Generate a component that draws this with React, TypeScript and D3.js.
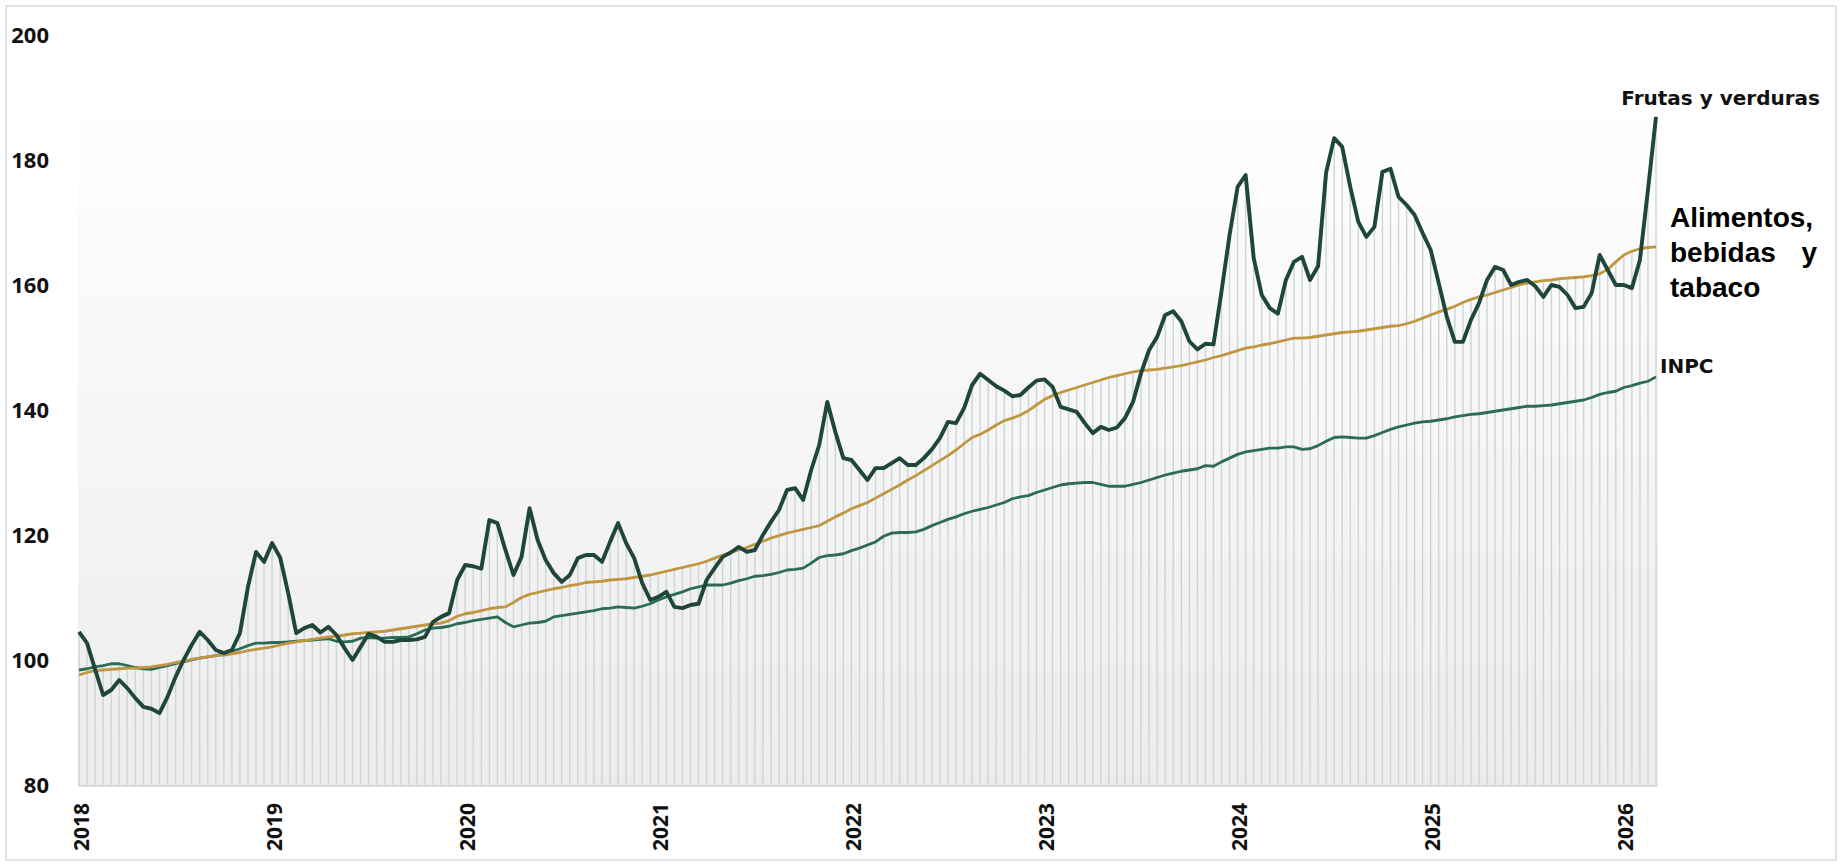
import React from 'react'
import * as d3 from 'd3'

// quincenas: 1Q ene 2018 ... 1Q mar 2026 (24 por año)
const frutas = [
	104.5, 102.7, 98.5, 94.4, 95.2, 96.8, 95.5, 93.9, 92.5, 92.2, 91.5, 94.1, 97.3, 100.0, 102.4, 104.5, 103.2, 101.6, 101.1, 101.6, 104.3, 111.7, 117.3, 115.7,
	118.7, 116.4, 110.7, 104.3, 105.1, 105.6, 104.4, 105.3, 104.0, 101.9, 100.0, 102.1, 104.2, 103.7, 102.9, 102.9, 103.2, 103.2, 103.3, 103.7, 106.1, 106.9, 107.5, 112.8,
	115.2, 115.0, 114.6, 122.4, 121.9, 117.6, 113.6, 116.5, 124.3, 119.2, 116.0, 113.9, 112.5, 113.6, 116.3, 116.8, 116.8, 115.7, 118.9, 121.9, 118.7, 116.3, 112.3, 109.6,
	110.1, 110.9, 108.5, 108.3, 108.8, 109.0, 112.8, 114.7, 116.5, 117.2, 118.1, 117.3, 117.6, 120.0, 122.1, 124.0, 127.2, 127.5, 125.6, 130.4, 134.4, 141.3, 136.5, 132.3,
	132.0, 130.4, 128.8, 130.7, 130.7, 131.5, 132.3, 131.2, 131.2, 132.3, 133.7, 135.5, 138.1, 137.9, 140.3, 144.0, 145.8, 144.8, 143.8, 143.1, 142.2, 142.4, 143.6, 144.7,
	144.9, 143.7, 140.5, 140.1, 139.7, 137.9, 136.3, 137.3, 136.8, 137.2, 138.7, 141.3, 145.9, 149.6, 151.7, 155.2, 155.8, 154.2, 151.0, 149.7, 150.6, 150.5, 159.0, 168.0,
	175.7, 177.6, 164.3, 158.4, 156.3, 155.4, 160.8, 163.7, 164.5, 160.8, 163.0, 178.0, 183.5, 182.1, 175.7, 170.1, 167.7, 169.3, 178.1, 178.6, 174.1, 172.8, 171.2, 168.3,
	165.6, 160.3, 154.9, 150.9, 150.9, 154.4, 157.1, 160.8, 162.9, 162.4, 160.0, 160.5, 160.8, 159.8, 158.1, 160.0, 159.7, 158.4, 156.3, 156.5, 158.7, 164.8, 162.4, 160.0,
	160.0, 159.5, 164.0, 175.2, 186.9,
]

const alimentos = [
	97.6, 98.0, 98.3, 98.4, 98.5, 98.6, 98.7, 98.7, 98.8, 98.9, 99.1, 99.3, 99.6, 99.8, 100.1, 100.3, 100.5, 100.7, 100.8, 101.0, 101.2, 101.5, 101.7, 101.9,
	102.1, 102.4, 102.7, 102.9, 103.1, 103.3, 103.5, 103.7, 103.8, 104.0, 104.2, 104.3, 104.4, 104.5, 104.6, 104.8, 105.0, 105.2, 105.4, 105.6, 105.8, 105.9, 106.3, 107.0,
	107.4, 107.6, 107.9, 108.2, 108.4, 108.5, 109.2, 110.0, 110.5, 110.8, 111.1, 111.4, 111.6, 111.9, 112.1, 112.4, 112.5, 112.6, 112.8, 112.9, 113.0, 113.2, 113.4, 113.6,
	113.9, 114.2, 114.5, 114.8, 115.1, 115.4, 115.8, 116.3, 116.8, 117.2, 117.6, 118.0, 118.5, 119.0, 119.5, 119.9, 120.3, 120.6, 120.9, 121.2, 121.5, 122.2, 122.9, 123.5,
	124.2, 124.7, 125.2, 125.9, 126.6, 127.3, 128.0, 128.8, 129.5, 130.3, 131.1, 131.9, 132.7, 133.6, 134.6, 135.6, 136.1, 136.8, 137.6, 138.3, 138.7, 139.2, 139.9, 140.8,
	141.7, 142.3, 142.8, 143.2, 143.6, 144.0, 144.4, 144.8, 145.2, 145.5, 145.8, 146.1, 146.3, 146.4, 146.5, 146.7, 146.9, 147.1, 147.4, 147.7, 148.0, 148.4, 148.7, 149.1,
	149.5, 149.9, 150.1, 150.4, 150.6, 150.9, 151.2, 151.5, 151.5, 151.6, 151.8, 152.0, 152.2, 152.4, 152.5, 152.6, 152.8, 153.0, 153.2, 153.4, 153.5, 153.8, 154.2, 154.7,
	155.2, 155.7, 156.1, 156.6, 157.2, 157.7, 158.1, 158.4, 158.8, 159.2, 159.6, 160.0, 160.3, 160.5, 160.7, 160.8, 161.0, 161.1, 161.2, 161.3, 161.5, 161.8, 162.5, 163.7,
	164.8, 165.4, 165.8, 166.0, 166.1,
]

const inpc = [
	98.4, 98.6, 98.9, 99.1, 99.4, 99.4, 99.1, 98.8, 98.6, 98.5, 98.8, 99.1, 99.4, 99.7, 100.0, 100.3, 100.5, 100.7, 101.0, 101.4, 101.8, 102.3, 102.7, 102.7,
	102.8, 102.8, 102.9, 103.0, 103.1, 103.2, 103.3, 103.4, 103.0, 102.9, 103.0, 103.5, 103.6, 103.5, 103.5, 103.6, 103.6, 103.7, 104.2, 104.8, 105.1, 105.2, 105.4, 105.8,
	106.0, 106.3, 106.5, 106.7, 106.9, 106.0, 105.3, 105.6, 105.9, 106.0, 106.2, 106.9, 107.1, 107.3, 107.5, 107.7, 107.9, 108.2, 108.3, 108.5, 108.4, 108.3, 108.6, 109.0,
	109.6, 110.1, 110.5, 110.9, 111.4, 111.7, 112.0, 112.0, 112.0, 112.3, 112.7, 113.0, 113.4, 113.5, 113.7, 114.0, 114.4, 114.5, 114.7, 115.5, 116.4, 116.7, 116.8, 117.0,
	117.5, 117.9, 118.4, 118.9, 119.8, 120.3, 120.4, 120.4, 120.5, 120.9, 121.5, 122.0, 122.5, 122.9, 123.4, 123.8, 124.1, 124.4, 124.8, 125.2, 125.8, 126.1, 126.3, 126.8,
	127.2, 127.6, 128.0, 128.2, 128.3, 128.4, 128.4, 128.1, 127.8, 127.8, 127.8, 128.1, 128.4, 128.8, 129.2, 129.6, 129.9, 130.2, 130.4, 130.6, 131.1, 131.0, 131.7, 132.3,
	132.9, 133.3, 133.5, 133.7, 133.9, 133.9, 134.1, 134.1, 133.7, 133.8, 134.3, 135.0, 135.6, 135.7, 135.6, 135.5, 135.5, 135.9, 136.4, 136.9, 137.3, 137.6, 137.9, 138.1,
	138.2, 138.4, 138.6, 138.9, 139.1, 139.3, 139.4, 139.6, 139.8, 140.0, 140.2, 140.4, 140.6, 140.6, 140.7, 140.8, 141.0, 141.2, 141.4, 141.6, 142.0, 142.5, 142.8, 143.0,
	143.6, 143.9, 144.3, 144.6, 145.3,
]

const years = [2018, 2019, 2020, 2021, 2022, 2023, 2024, 2025, 2026]
const yTicks = [80, 100, 120, 140, 160, 180, 200]

const W = 1843
const H = 868

export default function App() {
	const n = frutas.length
	const x = d3.scaleLinear().domain([0, n - 1]).range([79, 1656])
	const y = d3.scaleLinear().domain([80, 200]).range([785, 35])

	const line = d3.line<number>()
		.x((d, i) => x(i))
		.y(d => y(d))

	const tickFont = "'Noto Sans', 'Open Sans', sans-serif"
	const labelFont = "'DejaVu Sans', Verdana, sans-serif"

	return (
		<svg width={W} height={H} style={{ position: 'absolute', left: 0, top: 0, background: '#fff' }}>
			<defs>
				<linearGradient id="panel" x1="0" y1="0" x2="0" y2="1">
					<stop offset="0%" stopColor="#fefefe" />
					<stop offset="100%" stopColor="#ececec" />
				</linearGradient>
			</defs>
			<rect x={6} y={6} width={1830} height={854} fill="#fff" stroke="#dfe4ea" strokeWidth={2} />
			<rect x={x(0) - 1} y={118} width={x(n - 1) - x(0) + 3} height={y(80) - 118} fill="url(#panel)" />

			{frutas.map((d, i) => (
				<line key={i} x1={x(i)} x2={x(i)} y1={y(80)} y2={y(Math.max(d, alimentos[i], inpc[i]))}
					stroke="#cdd4dc" strokeWidth={1.4} />
			))}
			<line x1={x(0) - 1} x2={x(n - 1) + 2} y1={y(80) + 1} y2={y(80) + 1} stroke="#d8dde3" strokeWidth={2} />

			{yTicks.map(t => (
				<text key={t} x={49} y={y(t)} dy="0.36em" textAnchor="end" fontFamily={tickFont}
					fontWeight={700} fontSize={22} fill="#111">{t}</text>
			))}
			{years.map((yr, k) => (
				<text key={yr} transform={`translate(${x(k * 24) + 2}, 803) rotate(-90)`} dy="0.36em"
					textAnchor="end" fontFamily={tickFont} fontWeight={700} fontSize={21} fill="#111">{yr}</text>
			))}

			<path d={line(inpc) || ''} fill="none" stroke="#2c6b56" strokeWidth={2.8} strokeLinejoin="round" />
			<path d={line(alimentos) || ''} fill="none" stroke="#c09640" strokeWidth={2.8} strokeLinejoin="round" />
			<path d={line(frutas) || ''} fill="none" stroke="#1f463a" strokeWidth={3.9} strokeLinejoin="round" />

			<text x={1820} y={105} textAnchor="end" fontFamily={labelFont} fontWeight={700} fontSize={20} fill="#111">Frutas y verduras</text>
			<text x={1660} y={373} fontFamily={labelFont} fontWeight={700} fontSize={20} fill="#111">INPC</text>
			<g fontFamily="'Liberation Sans', Arial, sans-serif" fontWeight={700} fontSize={28} fill="#000">
				<text x={1670} y={227}>Alimentos,</text>
				<text x={1670} y={262}>bebidas</text>
				<text x={1817} y={262} textAnchor="end">y</text>
				<text x={1670} y={297}>tabaco</text>
			</g>
		</svg>
	)
}
